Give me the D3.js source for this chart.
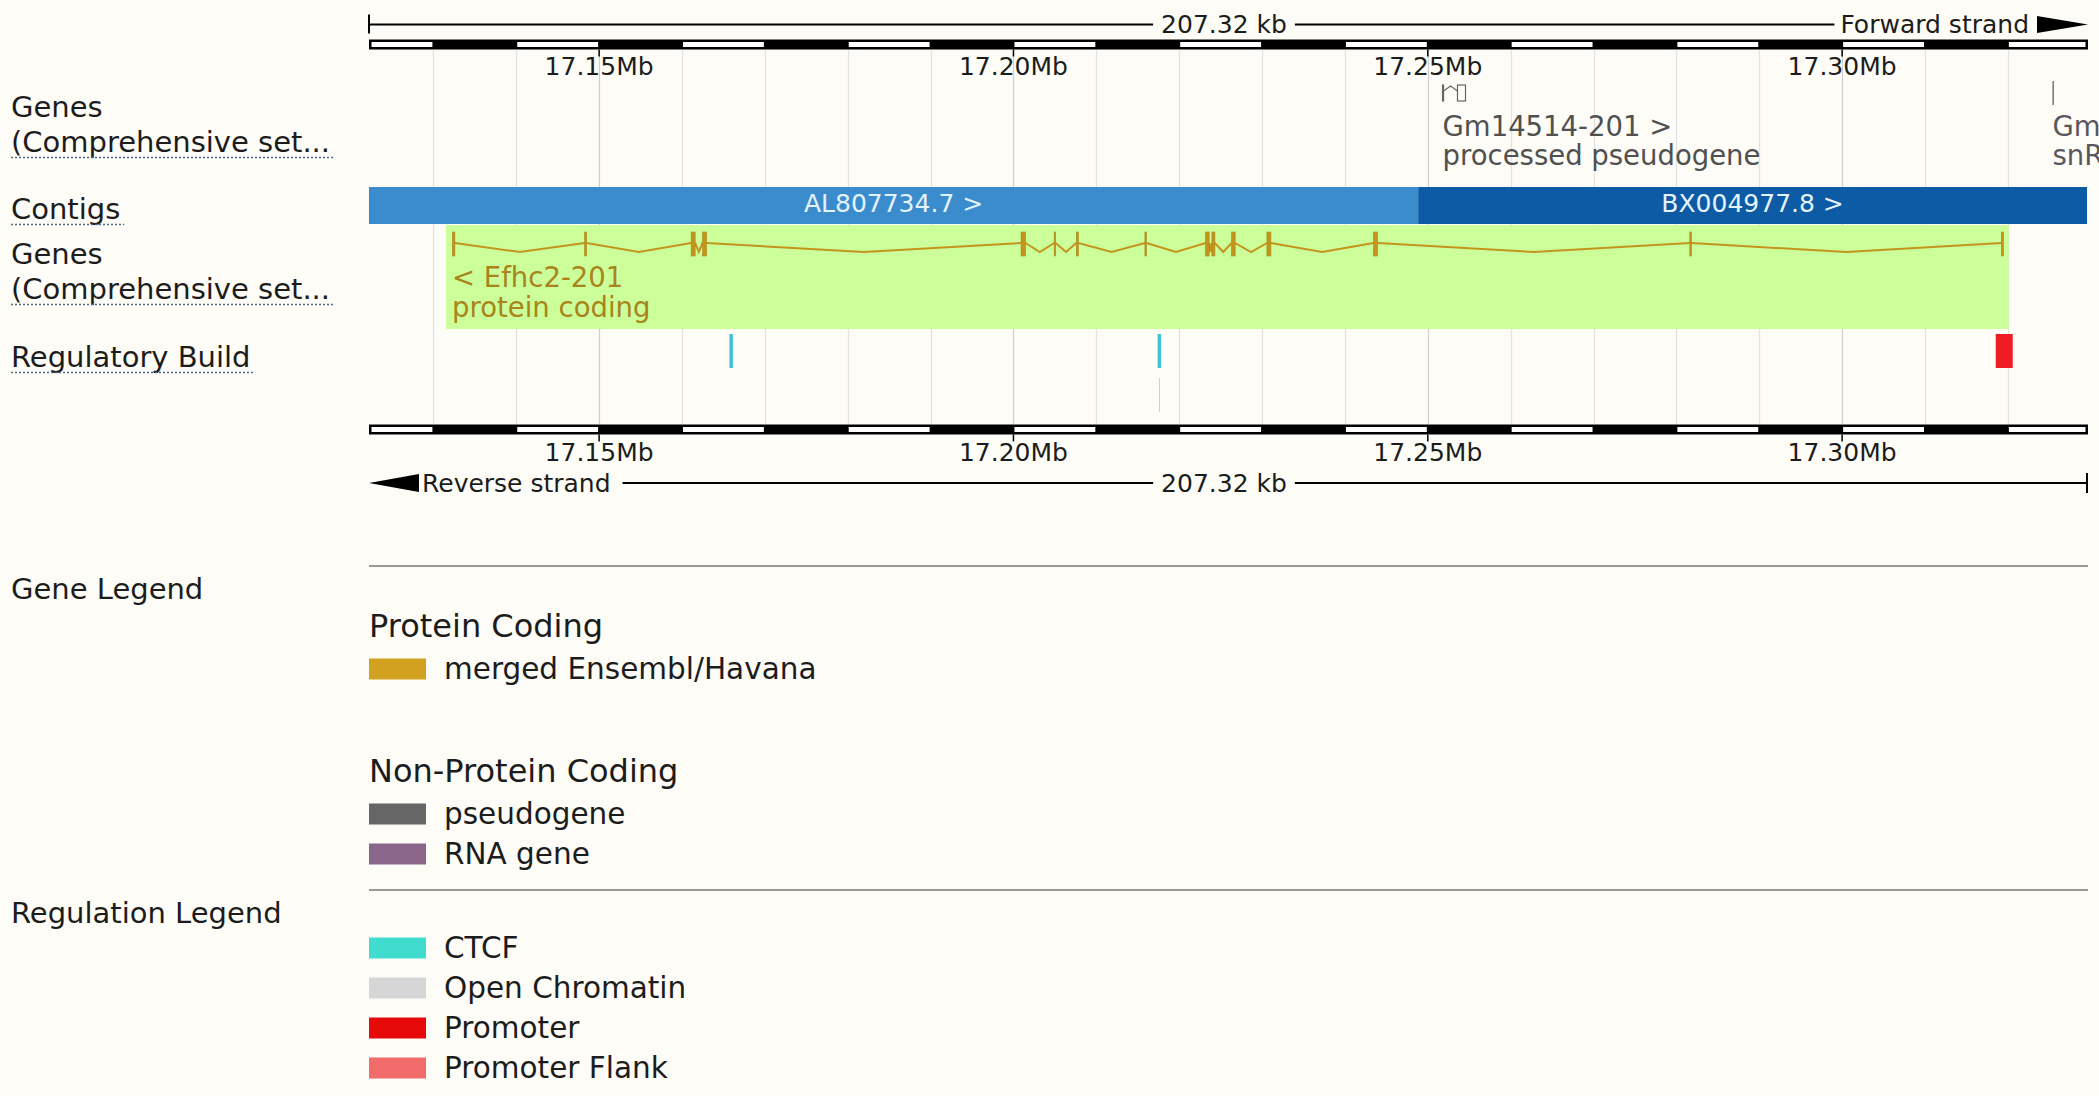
<!DOCTYPE html>
<html><head><meta charset="utf-8">
<script src="https://cdn.jsdelivr.net/npm/d3@7"></script>
<style>
html,body{margin:0;padding:0;background:#fdfcf7;}
svg{display:block;font-family:"DejaVu Sans",Verdana,sans-serif;}
</style></head><body>
<svg id="c" width="2099" height="1096"></svg>
<script>
// ---------- data ----------
const regionStart = 17122230, regionEnd = 17329550;
const regionLengthLabel = "207.32 kb";
const forwardLabel = "Forward strand", reverseLabel = "Reverse strand";
const majorTicks = [17150000, 17200000, 17250000, 17300000];
const majorTickLabels = ["17.15Mb", "17.20Mb", "17.25Mb", "17.30Mb"];
const minorStep = 10000;

const contigNames = ["AL807734.7 >", "BX004977.8 >"];
const contigStarts = [17122230, 17248840];
const contigEnds = [17248840, 17329550];
const contigColors = ["#3a8ccc", "#0c5ba4"];

const efhc2Exons = [
  [17132294, 17132594], [17148260, 17148500], [17161107, 17161587], [17162483, 17162963],
  [17200917, 17201457], [17204913, 17205093], [17207587, 17207827], [17215863, 17216043],
  [17223192, 17223612], [17223946, 17224306], [17226331, 17226751], [17230587, 17231067],
  [17243444, 17243924], [17281624, 17281804], [17319214, 17319454]
];
const efhc2Highlight = [17131526, 17320106];
const efhc2Labels = ["< Efhc2-201", "protein coding"];

const gm14514Exons = [[17251780, 17251900], [17253584, 17254550]];
const gm14514Labels = ["Gm14514-201 >", "processed pseudogene"];
const snrnaExons = [[17325380, 17325480]];
const snrnaLabels = ["Gm", "snR"];

const regTypes = ["CTCF", "CTCF", "Open Chromatin", "Promoter"];
const regStarts = [17165724, 17217397, 17217560, 17318537];
const regEnds = [17166144, 17217817, 17217660, 17320589];
const regRows = [0, 0, 1, 0];

const trackLabels = [["Genes", "(Comprehensive set..."], ["Contigs"], ["Genes", "(Comprehensive set..."], ["Regulatory Build"]];

const geneLegendTitle = "Gene Legend";
const geneLegendGroups = ["Protein Coding", "Non-Protein Coding"];
const geneLegendItems = [["merged Ensembl/Havana"], ["pseudogene", "RNA gene"]];
const geneLegendColors = [["#d1a11f"], ["#666666", "#8b668b"]];
const regLegendTitle = "Regulation Legend";
const regLegendItems = ["CTCF", "Open Chromatin", "Promoter", "Promoter Flank"];
const regLegendColors = ["#40dccf", "#d6d6d6", "#e60a0a", "#f26b6b"];

// ---------- drawing ----------
const svg = d3.select("#c");
const W = 2099, H = 1096;
const ink = "#1c1c1c";
svg.append("rect").attr("width", W).attr("height", H).attr("fill", "#fdfcf7");

const x0 = 369, x1 = 2087;
const x = d3.scaleLinear().domain([regionStart, regionEnd]).range([x0, x1]);

const boundaries = d3.range(Math.ceil(regionStart / minorStep) * minorStep, regionEnd, minorStep);

// gridlines
svg.append("g").selectAll("line").data(boundaries).join("line")
  .attr("x1", d => Math.round(x(d)) + 0.5).attr("x2", d => Math.round(x(d)) + 0.5)
  .attr("y1", 50).attr("y2", 424)
  .attr("stroke", d => d % 50000 === 0 ? "#cfcfcf" : "#e2e2e2").attr("stroke-width", 1.2);

// contigs
const cg = svg.append("g");
contigNames.forEach((n, i) => {
  cg.append("rect").attr("x", x(contigStarts[i])).attr("y", 187)
    .attr("width", x(contigEnds[i]) - x(contigStarts[i])).attr("height", 37)
    .attr("fill", contigColors[i]);
  cg.append("text").attr("x", (x(contigStarts[i]) + x(contigEnds[i])) / 2).attr("y", 203)
    .attr("dy", "0.35em").attr("text-anchor", "middle").attr("font-size", 25)
    .attr("fill", "#e4f3ff").text(n);
});

// Efhc2 highlight + gene
const gg = svg.append("g");
gg.append("rect").attr("x", x(efhc2Highlight[0])).attr("y", 225)
  .attr("width", x(efhc2Highlight[1]) - x(efhc2Highlight[0])).attr("height", 104)
  .attr("fill", "#ccff99");
const geneCol = "#c4951d";
const baseY = 243, dipY = 252;
for (let i = 0; i < efhc2Exons.length - 1; i++) {
  const a = x(efhc2Exons[i][1]), b = x(efhc2Exons[i + 1][0]);
  gg.append("path").attr("d", `M${a},${baseY}L${(a + b) / 2},${dipY}L${b},${baseY}`)
    .attr("fill", "none").attr("stroke", geneCol).attr("stroke-width", 2);
}
gg.selectAll("rect.ex").data(efhc2Exons).join("rect").attr("class", "ex")
  .attr("x", d => x(d[0])).attr("width", d => Math.max(1.5, x(d[1]) - x(d[0])))
  .attr("y", 232).attr("height", 24)
  .attr("fill", geneCol).attr("stroke", "#a8821a").attr("stroke-width", 0.6);
efhc2Labels.forEach((t, i) => {
  gg.append("text").attr("x", x(efhc2Highlight[0]) + 6).attr("y", 277 + i * 30)
    .attr("dy", "0.35em").attr("font-size", 27.5).attr("fill", "#a8841a").text(t);
});

// top gene track: Gm14514 pseudogene
const pg = svg.append("g");
const pcol = "#666";
gm14514Exons.forEach(d => {
  pg.append("rect").attr("x", x(d[0])).attr("y", 85)
    .attr("width", Math.max(1, x(d[1]) - x(d[0]))).attr("height", 16)
    .attr("fill", "none").attr("stroke", pcol).attr("stroke-width", 1.2);
});
{
  const a = x(gm14514Exons[0][1]), b = x(gm14514Exons[1][0]);
  pg.append("path").attr("d", `M${a},${91}L${(a + b) / 2},${86}L${b},${91}`)
    .attr("fill", "none").attr("stroke", pcol).attr("stroke-width", 1.2);
}
gm14514Labels.forEach((t, i) => {
  pg.append("text").attr("x", x(gm14514Exons[0][0])).attr("y", 126 + i * 29)
    .attr("dy", "0.35em").attr("font-size", 27.5).attr("fill", "#505050").text(t);
});
snrnaExons.forEach(d => {
  pg.append("rect").attr("x", x(d[0])).attr("y", 81)
    .attr("width", Math.max(1.5, x(d[1]) - x(d[0]))).attr("height", 24)
    .attr("fill", "#777");
});
snrnaLabels.forEach((t, i) => {
  pg.append("text").attr("x", x(snrnaExons[0][0])).attr("y", 126 + i * 29)
    .attr("dy", "0.35em").attr("font-size", 27.5).attr("fill", "#5a5660").text(t);
});

// regulatory features
const regColor = { "CTCF": "#3fc3d3", "Open Chromatin": "#cfcfcf", "Promoter": "#ee1c24" };
const rg = svg.append("g");
regTypes.forEach((t, i) => {
  const y = regRows[i] === 0 ? 334 : 378;
  rg.append("rect").attr("x", x(regStarts[i])).attr("y", y)
    .attr("width", Math.max(1, x(regEnds[i]) - x(regStarts[i]))).attr("height", 34)
    .attr("fill", regColor[t]);
});

// rulers
function ruler(yTop, labelY) {
  const g = svg.append("g");
  g.append("rect").attr("x", x0).attr("y", yTop).attr("width", x1 - x0 + 1).attr("height", 10).attr("fill", "#000");
  const edges = [regionStart, ...boundaries, regionEnd];
  for (let i = 0; i < edges.length - 1; i++) {
    const s = edges[i], e = edges[i + 1];
    const black = Math.floor(s / minorStep) % 2 === 1;
    if (!black) {
      const xa = x(s) + (i === 0 ? 2.5 : 1), xb = x(e) - (i === edges.length - 2 ? 1.5 : 1);
      g.append("rect").attr("x", xa).attr("y", yTop + 2.5).attr("width", xb - xa).attr("height", 5).attr("fill", "#fff");
    }
  }
  g.selectAll("line.tk").data(majorTicks).join("line").attr("class", "tk")
    .attr("x1", d => x(d)).attr("x2", d => x(d))
    .attr("y1", yTop + 10).attr("y2", yTop + 10 + 7).attr("stroke", "#000").attr("stroke-width", 1.5);
  g.selectAll("text").data(majorTicks).join("text")
    .attr("x", d => x(d)).attr("y", labelY).attr("dy", "0.35em")
    .attr("text-anchor", "middle").attr("font-size", 25).attr("fill", ink)
    .text((d, i) => majorTickLabels[i]);
}
ruler(39.5, 66);
ruler(424.5, 452);

// strand / length bars
function strandBar(y, forward) {
  const g = svg.append("g");
  const lenT = g.append("text").attr("x", 1224).attr("y", y).attr("dy", "0.35em")
    .attr("text-anchor", "middle").attr("font-size", 25).attr("fill", ink).text(regionLengthLabel);
  const lw = lenT.node().getComputedTextLength();
  const la = 1224 - lw / 2 - 8, lb = 1224 + lw / 2 + 8;
  if (forward) {
    g.append("line").attr("x1", x0).attr("x2", x0).attr("y1", y - 10).attr("y2", y + 9).attr("stroke", "#000").attr("stroke-width", 2);
    const st = g.append("text").attr("x", 2029).attr("y", y).attr("dy", "0.35em")
      .attr("text-anchor", "end").attr("font-size", 25).attr("fill", ink).text(forwardLabel);
    const sw = st.node().getComputedTextLength();
    g.append("line").attr("x1", x0).attr("x2", la).attr("y1", y).attr("y2", y).attr("stroke", "#000").attr("stroke-width", 2);
    g.append("line").attr("x1", lb).attr("x2", 2029 - sw - 6).attr("y1", y).attr("y2", y).attr("stroke", "#000").attr("stroke-width", 2);
    g.append("path").attr("d", `M2037,${y - 8.5}L2088,${y}L2037,${y + 8.5}Z`).attr("fill", "#000");
  } else {
    g.append("path").attr("d", `M${x0},${y}L419,${y - 9}L419,${y + 9}Z`).attr("fill", "#000");
    const st = g.append("text").attr("x", 422).attr("y", y).attr("dy", "0.35em")
      .attr("font-size", 25).attr("fill", ink).text(reverseLabel);
    const sw = st.node().getComputedTextLength();
    g.append("line").attr("x1", 422 + sw + 12).attr("x2", la).attr("y1", y).attr("y2", y).attr("stroke", "#000").attr("stroke-width", 2);
    g.append("line").attr("x1", lb).attr("x2", x1).attr("y1", y).attr("y2", y).attr("stroke", "#000").attr("stroke-width", 2);
    g.append("line").attr("x1", x1).attr("x2", x1).attr("y1", y - 10).attr("y2", y + 10).attr("stroke", "#000").attr("stroke-width", 2);
  }
}
strandBar(24.5, true);
strandBar(483, false);

// track labels
const tl = svg.append("g");
const labelYs = [[107, 142], [209], [254, 289], [357]];
trackLabels.forEach((lines, i) => {
  lines.forEach((t, j) => {
    const tx = tl.append("text").attr("x", 11).attr("y", labelYs[i][j]).attr("dy", "0.35em")
      .attr("font-size", 29).attr("fill", ink).text(t);
    if (j === lines.length - 1) {
      const w = tx.node().getComputedTextLength();
      tl.append("line").attr("x1", 11).attr("x2", 11 + w + 4)
        .attr("y1", labelYs[i][j] + 15.5).attr("y2", labelYs[i][j] + 15.5)
        .attr("stroke", "#4d6a8f").attr("stroke-width", 1.6).attr("stroke-dasharray", "2,2");
    }
  });
});

// legends
const lg = svg.append("g");
lg.append("line").attr("x1", x0).attr("x2", 2088).attr("y1", 566).attr("y2", 566).attr("stroke", "#999").attr("stroke-width", 2);
lg.append("text").attr("x", 11).attr("y", 589).attr("dy", "0.35em").attr("font-size", 29).attr("fill", ink).text(geneLegendTitle);
const groupY = [626, 771];
geneLegendGroups.forEach((g, gi) => {
  lg.append("text").attr("x", x0).attr("y", groupY[gi]).attr("dy", "0.35em").attr("font-size", 32).attr("fill", ink).text(g);
  geneLegendItems[gi].forEach((it, k) => {
    const cy = groupY[gi] + 43 + k * 40;
    lg.append("rect").attr("x", x0).attr("y", cy - 10.5).attr("width", 57).attr("height", 21).attr("fill", geneLegendColors[gi][k]);
    lg.append("text").attr("x", 444).attr("y", cy).attr("dy", "0.35em").attr("font-size", 29.5).attr("fill", ink).text(it);
  });
});
lg.append("line").attr("x1", x0).attr("x2", 2088).attr("y1", 890).attr("y2", 890).attr("stroke", "#999").attr("stroke-width", 2);
lg.append("text").attr("x", 11).attr("y", 913).attr("dy", "0.35em").attr("font-size", 29).attr("fill", ink).text(regLegendTitle);
regLegendItems.forEach((it, k) => {
  const cy = 948 + k * 40;
  lg.append("rect").attr("x", x0).attr("y", cy - 10.5).attr("width", 57).attr("height", 21).attr("fill", regLegendColors[k]);
  lg.append("text").attr("x", 444).attr("y", cy).attr("dy", "0.35em").attr("font-size", 29.5).attr("fill", ink).text(it);
});
</script>
</body></html>
